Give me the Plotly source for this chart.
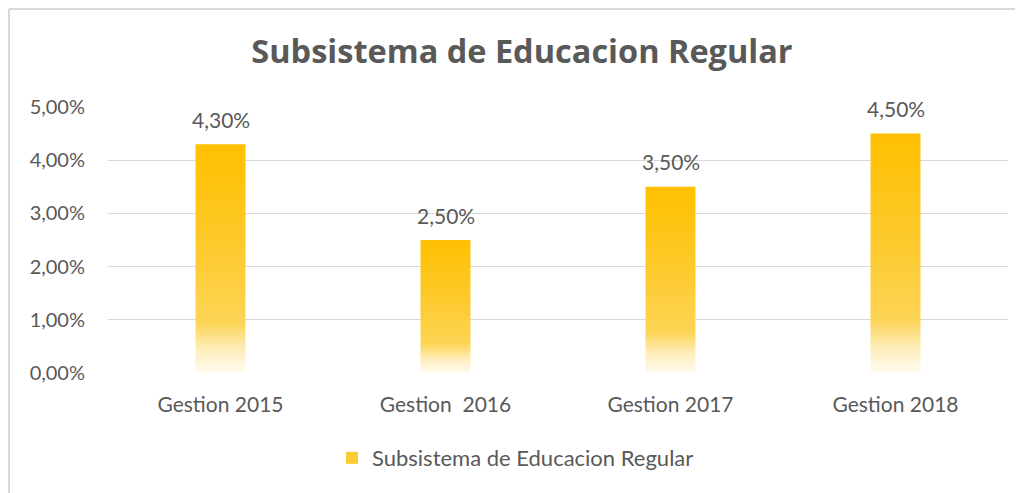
import plotly.graph_objects as go

categories = ["Gestion 2015", "Gestion  2016", "Gestion 2017", "Gestion 2018"]
values = [0.043, 0.025, 0.035, 0.045]
series_name = "Subsistema de Educacion Regular"
title_text = "Subsistema de Educacion Regular"
y_ticks = [0, 0.01, 0.02, 0.03, 0.04, 0.05]

# page body has an 8px margin; figure sized to fill the remaining window
W, H = 1015, 485
ML, MR, MT, MB = 100, 15, 99, 120
PW, PH = W - ML - MR, H - MT - MB

TXT = "#595959"
FONT = "Lato"
bar_width = 0.222
gradient = [
    [0.0, "rgb(255,251,240)"],
    [0.10, "rgb(254,238,190)"],
    [0.22, "rgb(253,212,85)"],
    [0.55, "rgb(253,202,45)"],
    [1.0, "rgb(255,192,0)"],
]

fig = go.Figure()
for i, (cat, v) in enumerate(zip(categories, values)):
    x0, x1 = i - bar_width / 2, i + bar_width / 2
    fig.add_trace(go.Scatter(
        x=[x0, x1, x1, x0, x0], y=[0, 0, v, v, 0],
        mode="none", fill="toself",
        fillgradient=dict(type="vertical", colorscale=gradient),
        name=series_name, showlegend=False, hoverinfo="skip",
    ))

# legend entry (square swatch)
fig.add_trace(go.Bar(x=[None], y=[None], name=series_name,
                     marker=dict(color="rgb(253,204,55)", line=dict(width=0)),
                     showlegend=True, hoverinfo="skip"))

for i, v in enumerate(values):
    fig.add_annotation(
        x=i, y=v, text=f"{v*100:.2f}%".replace(".", ","),
        showarrow=False, yanchor="middle", yshift=25,
        font=dict(family=FONT, size=21, color=TXT),
    )

fig.update_layout(
    width=W, height=H,
    margin=dict(l=ML, r=MR, t=MT, b=MB),
    paper_bgcolor="white", plot_bgcolor="white",
    separators=",.",
    title=dict(text=f"<b>{title_text}</b>", x=(514 - ML) / PW, xref="paper", xanchor="center",
               y=1 - 44 / H, yanchor="middle",
               font=dict(family="Open Sans", size=32.5, color=TXT)),
    xaxis=dict(range=[-0.5, len(categories) - 0.5], tickvals=list(range(len(categories))),
               ticktext=categories, showgrid=False, zeroline=False, showline=False,
               ticks="", tickfont=dict(family=FONT, size=21, color=TXT), ticklabelstandoff=17),
    yaxis=dict(range=[0, 0.05], tickvals=y_ticks, tickformat=".2%", showgrid=True,
               gridcolor="#D9D9D9", gridwidth=1, zeroline=False, showline=False, ticks="",
               tickfont=dict(family=FONT, size=20, color=TXT), ticklabelstandoff=22),
    legend=dict(orientation="h", x=(324 - ML) / PW, xanchor="left", y=-(450 - 365) / PH,
                yanchor="middle", font=dict(family=FONT, size=22, color=TXT),
                bgcolor="rgba(0,0,0,0)", itemwidth=30),
    shapes=[
        dict(type="line", xref="paper", yref="paper", x0=(1 - ML) / PW, x1=(W + 5 - ML) / PW,
             y0=(H - MB - 1) / PH, y1=(H - MB - 1) / PH, line=dict(color="#D9D9D9", width=2)),
        dict(type="line", xref="paper", yref="paper", x0=(1 - ML) / PW, x1=(1 - ML) / PW,
             y0=(H - MB - 1) / PH, y1=-(MB + 5) / PH, line=dict(color="#D9D9D9", width=2)),
    ],
)

fig.write_html("out.html")
